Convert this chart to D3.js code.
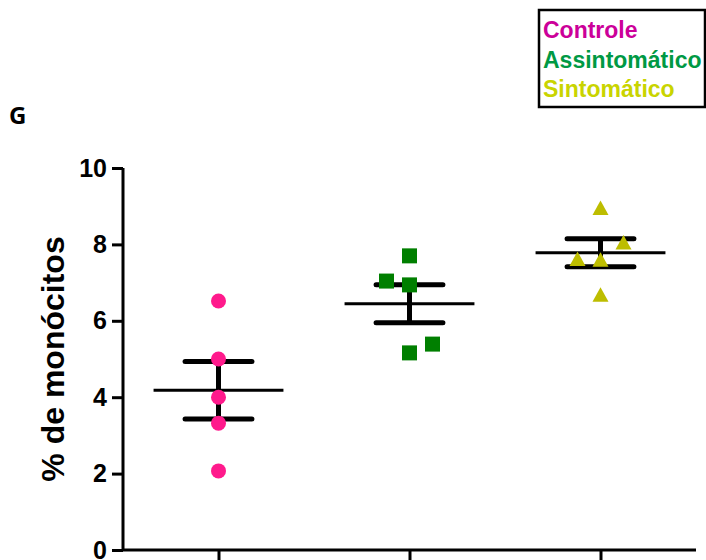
<!DOCTYPE html>
<html><head><meta charset="utf-8">
<script src="https://cdn.jsdelivr.net/npm/d3@7"></script>
<style>body{margin:0;background:#fff}svg{display:block}</style>
</head><body>
<svg id="c" width="706" height="560"></svg>
<script>
const categories = ["Controle", "Assintomático", "Sintomático"];
const controle = [6.52, 5.0, 4.0, 3.32, 2.07];
const assintomatico = [7.70, 7.04, 6.94, 5.39, 5.16];
const sintomatico = [8.95, 8.05, 7.62, 7.60, 6.68];
const yTicks = [0, 2, 4, 6, 8, 10];
const legendColors = ["#cc0099", "#009944", "#c9d400"];
const markColors = ["#ff1a8c", "#007f00", "#bdbd00"];
const symbols = ["circle", "square", "triangle"];
const xJitter = [[0,0,0,0,0],[0,-23,0,23,0],[0,23,-23,0,0]];

const svg = d3.select("#c");
const font = "'Liberation Sans', Arial, sans-serif";
const x = d3.scalePoint().domain(categories).range([123, 696]).padding(0.5);
const y = d3.scaleLinear().domain([0, 10]).range([550, 168]);
const step = x.step();

// axes
const yAxis = svg.append("g").attr("transform", "translate(123,0)")
  .call(d3.axisLeft(y).tickValues(yTicks).tickSize(11).tickPadding(5).tickFormat(d3.format("d")));
yAxis.select(".domain").attr("stroke-width", 3).attr("d", "M0," + y(10) + "V" + y(0));
yAxis.selectAll(".tick line").attr("stroke-width", 3);
yAxis.selectAll(".tick text").attr("font-family", font).attr("font-weight", "bold").attr("font-size", 25).attr("fill", "#000");

const xAxis = svg.append("g").attr("transform", "translate(0,550)")
  .call(d3.axisBottom(x).tickSize(14).tickFormat(""));
xAxis.select(".domain").attr("stroke-width", 3).attr("d", "M123,0H696");
xAxis.selectAll(".tick line").attr("stroke-width", 3);

// y title
svg.append("text").attr("transform", "translate(64," + ((y(0) + y(10)) / 2) + ") rotate(-90)")
  .attr("text-anchor", "middle").attr("font-family", font).attr("font-weight", "bold")
  .attr("font-size", 32).text("% de monócitos");

// G label
svg.append("text").attr("x", 9).attr("y", 124).attr("font-family", "'Open Sans', sans-serif")
  .attr("font-weight", "bold").attr("font-size", 24).text("G");

// groups
const groups = [controle, assintomatico, sintomatico];
groups.forEach((vals, gi) => {
  const cx = x(categories[gi]);
  const m = d3.mean(vals);
  const sem = d3.deviation(vals) / Math.sqrt(vals.length);
  const g = svg.append("g");
  // error bars
  const cap = step * 0.175;
  g.append("line").attr("x1", cx).attr("x2", cx).attr("y1", y(m + sem)).attr("y2", y(m - sem))
    .attr("stroke", "#000").attr("stroke-width", 5);
  [m + sem, m - sem].forEach(v => {
    g.append("line").attr("x1", cx - cap).attr("x2", cx + cap).attr("y1", y(v)).attr("y2", y(v))
      .attr("stroke", "#000").attr("stroke-width", 5).attr("stroke-linecap", "round");
  });
  const mw = step * 0.34;
  g.append("line").attr("x1", cx - mw).attr("x2", cx + mw).attr("y1", y(m)).attr("y2", y(m))
    .attr("stroke", "#000").attr("stroke-width", 3);
  // points (drawn over the bars)
  vals.forEach((v, i) => {
    const px = cx + xJitter[gi][i], py = y(v);
    if (symbols[gi] === "circle") {
      g.append("circle").attr("cx", px).attr("cy", py).attr("r", 7.5).attr("fill", markColors[gi]);
    } else if (symbols[gi] === "square") {
      g.append("rect").attr("x", px - 7.5).attr("y", py - 7.5).attr("width", 15).attr("height", 15).attr("fill", markColors[gi]);
    } else {
      g.append("path").attr("d", `M${px},${py - 7.5}L${px + 8},${py + 7}L${px - 8},${py + 7}Z`).attr("fill", markColors[gi]);
    }
  });
});

// legend
const lg = svg.append("g");
lg.append("rect").attr("x", 539).attr("y", 10).attr("width", 166).attr("height", 97)
  .attr("fill", "#fff").attr("stroke", "#000").attr("stroke-width", 2.5);
categories.forEach((c, i) => {
  lg.append("text").attr("x", 543).attr("y", 38 + i * 29.5).attr("font-family", font)
    .attr("font-weight", "bold").attr("font-size", 23).attr("fill", legendColors[i]).text(c);
});
</script>
</body></html>
